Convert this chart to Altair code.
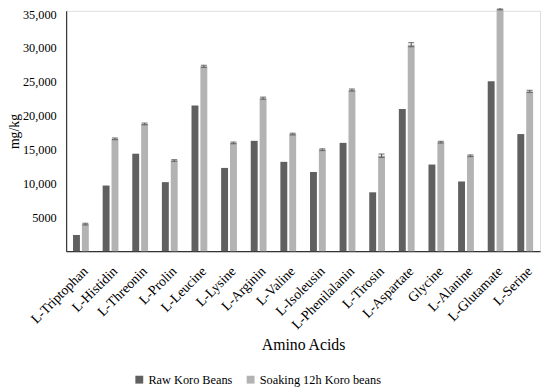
import altair as alt
import pandas as pd

amino = ["L-Triptophan", "L-Histidin", "L-Threonin", "L-Prolin", "L-Leucine", "L-Lysine",
         "L-Arginin", "L-Valine", "L-Isoleusin", "L-Phenilalanin", "L-Tirosin", "L-Aspartate",
         "Glycine", "L-Alanine", "L-Glutamate", "L-Serine"]
raw = [2400, 9700, 14400, 10200, 21500, 12300, 16300, 13200, 11700, 16000, 8700, 21000,
       12800, 10300, 25100, 17300]
soak = [4000, 16600, 18800, 13400, 27300, 16000, 22600, 17300, 15000, 23800, 14100, 30500,
        16100, 14100, 35800, 23600]
soak_err = [120, 120, 120, 120, 150, 120, 150, 120, 120, 150, 250, 300, 120, 120, 150, 150]
raw_err = [0] * len(amino)

series = ["Raw Koro Beans", "Soaking 12h Koro beans"]
colors = ["#606060", "#b3b3b3"]

rows = []
for i, a in enumerate(amino):
    rows.append({"Amino": a, "Series": series[0], "Value": raw[i], "Err": raw_err[i]})
    rows.append({"Amino": a, "Series": series[1], "Value": soak[i], "Err": soak_err[i]})
df = pd.DataFrame(rows)
df["Lo"] = df["Value"] - df["Err"]
df["Hi"] = df["Value"] + df["Err"]

FONT = "Liberation Serif"

x = alt.X("Amino:N", sort=amino, title="Amino Acids",
          scale=alt.Scale(paddingInner=0.467, paddingOuter=0.233),
          axis=alt.Axis(labelAngle=-45, ticks=False, labelFontSize=14, titleFontSize=16,
                        labelPadding=13, titleY=95, titleBaseline="middle",
                        domainColor="#333", domainWidth=1.2,
                        labelColor="#000", titleColor="#000", titleFontWeight="normal"))
xo = alt.XOffset("Series:N", sort=series, scale=alt.Scale(paddingInner=0.222))

base = alt.Chart(df)

bars = base.mark_bar().encode(
    x=x,
    xOffset=xo,
    y=alt.Y("Value:Q", title="mg/kg",
            scale=alt.Scale(domain=[0, 35500], nice=False),
            axis=alt.Axis(values=[5000, 10000, 15000, 20000, 25000, 30000, 35000],
                          labelExpr="datum.value >= 10000 ? format(datum.value, ',') : format(datum.value, 'd')",
                          grid=False, ticks=False, labelFontSize=12.5, titleFontSize=14,
                          labelPadding=10, titleX=-52, titleBaseline="middle",
                          domainColor="#333", domainWidth=1.2,
                          labelColor="#000", titleColor="#000", titleFontWeight="normal")),
    color=alt.Color("Series:N", sort=series,
                    scale=alt.Scale(domain=series, range=colors),
                    legend=alt.Legend(orient="none", legendX=68, legendY=368, direction="horizontal",
                                      title=None, symbolType="square", padding=0,
                                      symbolSize=64, labelFontSize=12.5, columnPadding=12,
                                      labelOffset=3, symbolStrokeWidth=0, labelColor="#000")),
)

errdf = base.transform_filter(alt.datum.Err > 0)
rules = errdf.mark_rule(color="#555", strokeWidth=1).encode(
    x=x, xOffset=xo, y="Lo:Q", y2="Hi:Q")
caps_hi = errdf.mark_tick(color="#555", thickness=1.3, size=6).encode(
    x=x, xOffset=xo, y="Hi:Q")
caps_lo = errdf.mark_tick(color="#555", thickness=1.3, size=6).encode(
    x=x, xOffset=xo, y="Lo:Q")

chart = alt.layer(bars, rules, caps_hi, caps_lo).properties(
    width=481, height=244,
    autosize=alt.AutoSizeParams(type="none"),
    padding={"left": 59, "top": 0, "right": 2, "bottom": 138},
).configure_view(stroke=None).configure(font=FONT)

chart.save("out.html", embed_options={"renderer": "svg", "actions": False})
